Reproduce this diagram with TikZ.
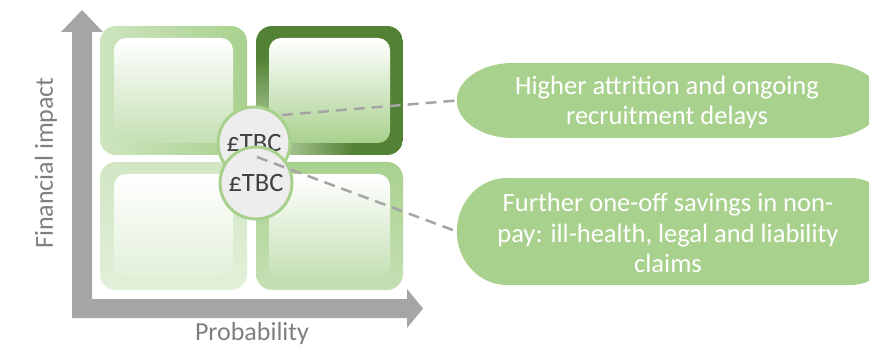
\documentclass[tikz,border=0pt]{standalone}
\usepackage{fontspec}
\setmainfont{Carlito}
\usetikzlibrary{calc}
\definecolor{axisgrey}{HTML}{A5A5A5}
\definecolor{labelgrey}{HTML}{7F7F7F}
\definecolor{midgreen}{HTML}{A9D18E}
\definecolor{lightgreen}{HTML}{C5E0B4}
\definecolor{palegreen}{HTML}{E2F0D9}
\definecolor{darkgreen}{HTML}{548235}
\definecolor{circfill}{HTML}{EDEDED}
\definecolor{txtdark}{HTML}{404040}
\tikzset{
  outerbox/.style={rounded corners=16pt},
  innerbox/.style={rounded corners=12pt},
  tbc/.style={circle, minimum size=72pt, inner sep=0pt, draw=midgreen, line width=3pt, fill=circfill,
    text=txtdark, font=\fontsize{26.5}{30}\selectfont},
  bubblebox/.style={rectangle, inner sep=0pt},
  bubblefill/.style={fill=midgreen},
  bubbletext/.style={text=white, align=center, inner sep=0pt, font=\fontsize{26.5}{30.5}\selectfont},
  leader/.style={draw=axisgrey, line width=2.5pt, dash pattern=on 11pt off 7pt},
  axlabel/.style={text=labelgrey, font=\fontsize{26}{30}\selectfont}
}
\begin{document}
\begin{tikzpicture}[x=1pt,y=-1pt]
\useasboundingbox (0,0) rectangle (869,347);
% axes
\fill[axisgrey] (72,318) -- (72,32) -- (61,32) -- (82,10) -- (103,32) -- (92,32) -- (92,299)
  -- (407,299) -- (407,289) -- (423,308.5) -- (407,328) -- (407,318) -- cycle;
% top-left box
\shade[outerbox, left color=lightgreen!85, right color=midgreen] (100,26) rectangle (247,155);
\shade[innerbox, top color=white, bottom color=lightgreen] (114,38) rectangle (233,143);
% top-right box
\begin{scope}
  \clip[outerbox] (256,26) rectangle (403,155);
  \fill[darkgreen] (256,26) rectangle (403,155);
  \shade[inner color=midgreen!60!white, outer color=darkgreen] (258,153) circle (95pt);
\end{scope}
\shade[innerbox, top color=white, bottom color=midgreen] (269,38) rectangle (390,143);
% bottom-left box
\shade[outerbox, top color=lightgreen!80, bottom color=palegreen] (100,162) rectangle (247,290);
\shade[innerbox, top color=white, bottom color=palegreen] (114,174) rectangle (233,278);
% bottom-right box
\shade[outerbox, top color=midgreen, bottom color=lightgreen] (256,162) rectangle (403,290);
\shade[innerbox, top color=white, bottom color=lightgreen] (269,174) rectangle (390,278);
% circles
\node[tbc] (c1) at (254,143) {£TBC};
\node[tbc] (c2) at (256,183) {£TBC};
% bubbles
\node[bubblebox, minimum width=425pt, minimum height=75pt] (e1) at (669.5,100.5) {};
\fill[bubblefill] ($(e1.west)+(56,0)$) ellipse [x radius=56, y radius=37.5];
\fill[bubblefill] ($(e1.east)+(-56,0)$) ellipse [x radius=56, y radius=37.5];
\fill[bubblefill] ($(e1.north west)+(55,0)$) rectangle ($(e1.south east)+(-55,0)$);
\node[bubbletext] (t1) at (667,102.5) {Higher attrition and ongoing\\recruitment delays};
\node[bubblebox, minimum width=443pt, minimum height=107pt] (e2) at (678.5,231.5) {};
\fill[bubblefill] ($(e2.west)+(50,0)$) ellipse [x radius=50, y radius=53.5];
\fill[bubblefill] ($(e2.east)+(-50,0)$) ellipse [x radius=50, y radius=53.5];
\fill[bubblefill] ($(e2.north west)+(49,0)$) rectangle ($(e2.south east)+(-49,0)$);
\node[bubbletext] (t2) at (668,233) {Further one-off savings in non-\\pay: ill-health, legal and liability\\claims};
% leaders
\coordinate (s1) at (282,115);
\coordinate (s2) at (257,157);
\draw[leader] (s1) -- (e1.west);
\draw[leader] (s2) -- (e2.west);
% axis labels
\node[axlabel, rotate=90] (ylab) at (46,163) {Financial impact};
\node[axlabel] (xlab) at (252,334) {Probability};
\end{tikzpicture}
\end{document}
